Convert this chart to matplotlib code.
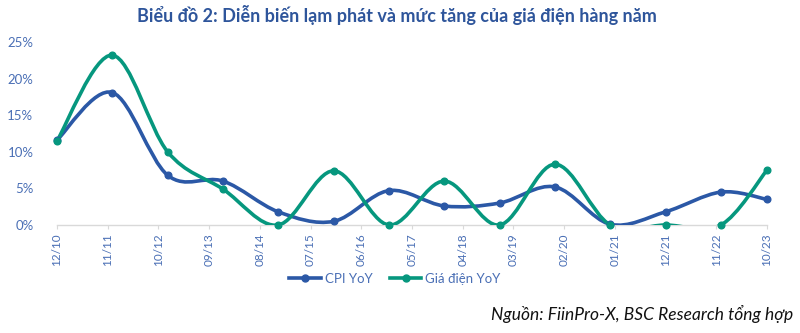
import numpy as np
import matplotlib
matplotlib.use("Agg")
import matplotlib.pyplot as plt
from matplotlib.path import Path
from matplotlib.patches import PathPatch
from matplotlib.lines import Line2D

plt.rcParams['font.family'] = ['Lato', 'DejaVu Sans']

# Observation dates (MM/YYYY) and annual rates, %
dates = ["12/2010", "12/2011", "12/2012", "12/2013", "12/2014", "12/2015", "12/2016",
         "12/2017", "12/2018", "12/2019", "12/2020", "12/2021", "12/2022", "10/2023"]
cpi_yoy = [11.6, 18.1, 6.8, 6.0, 1.8, 0.5, 4.7, 2.6, 3.0, 5.2, 0.1, 1.8, 4.5, 3.5]
elec_yoy = [11.5, 23.2, 10.0, 4.9, 0.0, 7.4, 0.0, 6.0, 0.0, 8.3, 0.0, 0.0, 0.0, 7.5]

tick_labels = ["12/10", "11/11", "10/12", "09/13", "08/14", "07/15", "06/16", "05/17",
               "04/18", "03/19", "02/20", "01/21", "12/21", "11/22", "10/23"]
y_ticks = [0, 5, 10, 15, 20, 25]

series_names = ["CPI YoY", "Giá điện YoY"]
BLUE = "#2B58A6"
GREEN = "#06977E"
LABEL = "#4A6FB5"
TITLE = "#2E559B"


def month_index(s):
    m, y = s.split("/")
    y = int(y)
    if y < 100:
        y += 2000
    return (y - 2010) * 12 + int(m) - 12


x = np.array([month_index(d) for d in dates], dtype=float)
tick_x = [month_index(t) for t in tick_labels]


def smooth_path(xs, ys):
    """Cubic Bezier spline through the points (Catmull-Rom style tangents)."""
    pts = np.column_stack([xs, ys])
    n = len(pts)
    verts = [pts[0]]
    codes = [Path.MOVETO]
    for i in range(n - 1):
        p0 = pts[i - 1] if i > 0 else pts[i]
        p1 = pts[i]
        p2 = pts[i + 1]
        p3 = pts[i + 2] if i + 2 < n else pts[i + 1]
        c1 = p1 + (p2 - p0) / 6.0
        c2 = p2 - (p3 - p1) / 6.0
        verts += [c1, c2, p2]
        codes += [Path.CURVE4] * 3
    return Path(verts, codes)


fig = plt.figure(figsize=(8, 3.33), dpi=100)
ax = fig.add_axes([57 / 800, 1 - 225 / 333, 710 / 800, 183 / 333])

for vals, col in [(cpi_yoy, BLUE), (elec_yoy, GREEN)]:
    patch = PathPatch(smooth_path(x, vals), facecolor="none", edgecolor=col,
                      lw=2.6, capstyle="round", joinstyle="round", zorder=3)
    ax.add_patch(patch)
    ax.plot(x, vals, linestyle="none", marker="o", ms=4.8, color=col,
            clip_on=False, zorder=4)

ax.set_xlim(0, 154)
ax.set_ylim(0, 25)
ax.set_xticks(tick_x)
ax.set_xticklabels(tick_labels, rotation=90, color=LABEL, fontsize=8.5)
ax.set_yticks(y_ticks)
ax.set_yticklabels([f"{v}%" for v in y_ticks], color=LABEL, fontsize=9.5)
ax.tick_params(axis="x", length=3, color="#D9D9D9", pad=3)
ax.tick_params(axis="y", length=0, pad=17)
for s in ["top", "right", "left"]:
    ax.spines[s].set_visible(False)
ax.spines["bottom"].set_color("#D9D9D9")
ax.spines["bottom"].set_linewidth(1.0)
ax.spines["bottom"].set_zorder(2)

fig.text(397 / 800, 1 - 15 / 333, "Biểu đồ 2: Diễn biến lạm phát và mức tăng của giá điện hàng năm",
         ha="center", va="center", fontsize=13, fontweight="bold", color=TITLE)

handles = [Line2D([], [], color=BLUE, lw=2.6, marker="o", ms=5),
           Line2D([], [], color=GREEN, lw=2.6, marker="o", ms=5)]
leg = fig.legend(handles, series_names, loc="center", bbox_to_anchor=(395 / 800, 1 - 279 / 333),
                 ncol=2, frameon=False, fontsize=9.5, handlelength=2.4, handletextpad=0.3,
                 columnspacing=1.3)
for t in leg.get_texts():
    t.set_color(LABEL)

fig.text(793 / 800, 1 - 314 / 333, "Nguồn: FiinPro-X, BSC Research tổng hợp",
         ha="right", va="center", fontsize=12.5, style="italic", color="#111111")

fig.savefig("out.png", dpi=100)
